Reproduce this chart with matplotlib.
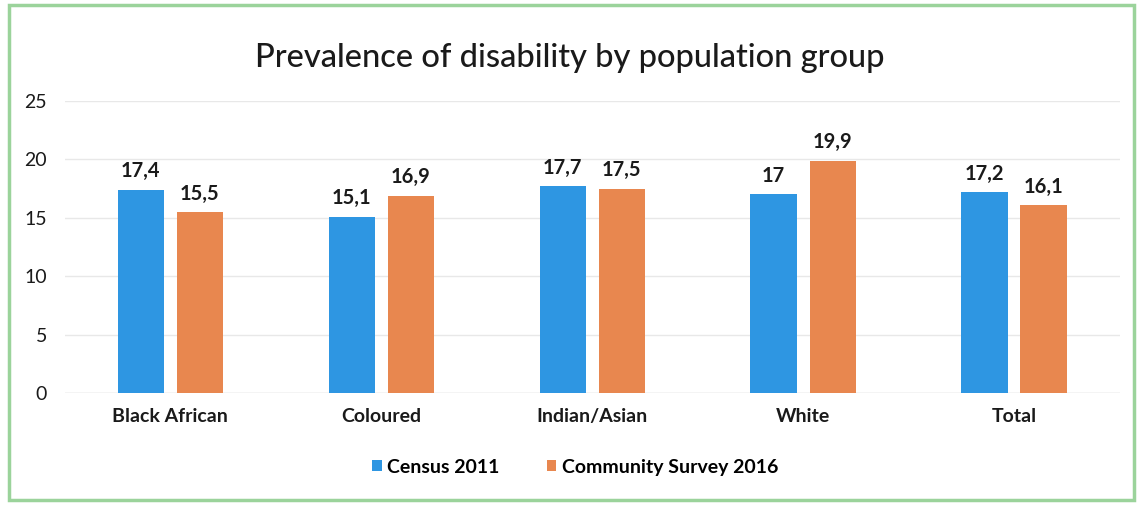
import matplotlib
matplotlib.use('Agg')
import matplotlib.pyplot as plt
import numpy as np
from matplotlib.patches import Rectangle

plt.rcParams['font.family'] = ['Lato', 'DejaVu Sans']

groups = ['Black African', 'Coloured', 'Indian/Asian', 'White', 'Total']
census_2011 = [17.4, 15.1, 17.7, 17.0, 17.2]
survey_2016 = [15.5, 16.9, 17.5, 19.9, 16.1]
series_names = ['Census 2011', 'Community Survey 2016']
yticks = [0, 5, 10, 15, 20, 25]

BLUE = '#2e96e2'
ORANGE = '#e8874f'


def fmt(v):
    s = ('%g' % v)
    return s.replace('.', ',')


def plot_chart():
    fig = plt.figure(figsize=(11.39, 5.05), dpi=100)
    ax = fig.add_axes([0.057, 0.222, 0.926, 0.578])

    x = np.arange(len(groups))
    w = 0.22
    off = 0.14
    b1 = ax.bar(x - off, census_2011, w, color=BLUE, label=series_names[0], zorder=2)
    b2 = ax.bar(x + off, survey_2016, w, color=ORANGE, label=series_names[1], zorder=2)

    for bars, vals in ((b1, census_2011), (b2, survey_2016)):
        for rect, v in zip(bars, vals):
            ax.annotate(fmt(v), (rect.get_x() + rect.get_width() / 2, v),
                        xytext=(0, 6), textcoords='offset points',
                        ha='center', va='bottom', fontsize=14.5, fontweight='bold',
                        color='#1a1a1a')

    ax.set_xlim(-0.5, len(groups) - 0.5)
    ax.set_ylim(0, 25)
    ax.set_yticks(yticks)
    ax.set_xticks(x)
    ax.set_xticklabels(groups, fontsize=14, fontweight='bold', color='#1a1a1a')
    ax.tick_params(axis='y', labelsize=14, colors='#1a1a1a', length=0, pad=13)
    ax.tick_params(axis='x', length=0, pad=11)
    ax.grid(axis='y', color='#e8e8e8', linewidth=1, zorder=0)
    for s in ax.spines.values():
        s.set_visible(False)
    ax.axhline(0, color='#d8d8d8', linewidth=1, zorder=1)

    fig.suptitle('Prevalence of disability by population group', y=0.915,
                 fontsize=23.5, fontweight='medium', color='#1a1a1a')

    fig.legend(handles=[b1, b2], loc='center', bbox_to_anchor=(0.505, 0.075),
               ncol=2, frameon=False, handlelength=0.5, handleheight=0.5,
               handletextpad=0.3, columnspacing=2.4,
               prop={'size': 14, 'weight': 'bold'})

    fig.patches.append(Rectangle((0.008, 0.01), 0.988, 0.98, transform=fig.transFigure,
                                 fill=False, edgecolor='#9bd39b', linewidth=2.5))

    fig.savefig('out.png', dpi=100)


if __name__ == "__main__":
    plot_chart()
